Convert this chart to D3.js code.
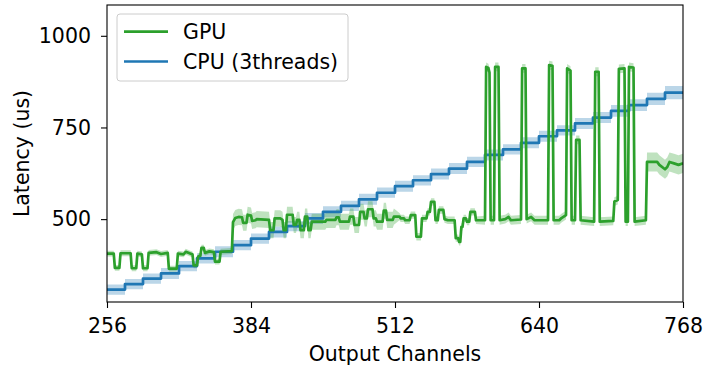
<!DOCTYPE html>
<html>
<head>
<meta charset="utf-8">
<script src="https://cdn.jsdelivr.net/npm/d3@7"></script>
<style>
  body { margin: 0; background: #fff; }
  svg { display: block; font-family: "DejaVu Sans", sans-serif; }
</style>
</head>
<body>
<svg id="chart" width="704" height="367"></svg>
<script>
// ticks
var xTicks = [256, 384, 512, 640, 768];
var yTicks = [500, 750, 1000];

// CPU (3 threads): latency is flat over every block of 16 output channels
var cpuStepStart = [256, 272, 288, 304, 320, 336, 352, 368, 384, 400, 416, 432, 448, 464, 480, 496,
                    512, 528, 544, 560, 576, 592, 608, 624, 640, 656, 672, 688, 704, 720, 736, 752];
var cpuLatency = [308, 323, 338, 352, 372, 393, 411, 429, 447, 465, 481, 502, 520, 536, 554, 572,
                  590, 606, 623, 638, 656, 675, 690, 708, 726, 742, 761, 777, 795, 811, 828, 845];
var cpuSpread = [14, 14, 14, 15, 14, 14, 15, 14, 14, 15, 14, 15, 15, 14, 15, 14,
                 15, 14, 15, 15, 14, 15, 14, 15, 15, 14, 15, 15, 16, 16, 17, 18];

// GPU: breakpoints of the measured curve
var gpuChannels = [256, 262, 263, 267, 268, 277, 278, 282, 283, 287, 288, 292, 293, 300, 304, 310,
  311, 318, 319, 324, 326, 330, 332, 333, 336, 337, 339, 340, 342, 343, 347, 351, 352, 356, 357, 367,
  368, 370, 373, 376, 377, 380, 381, 384, 385, 388, 389, 400, 401, 404, 405, 410, 412, 413, 415, 416,
  421, 422, 424, 425, 427, 428, 431, 432, 434, 435, 437, 438, 450, 451, 459, 460, 462, 463, 471, 472,
  475, 476, 480, 481, 484, 485, 487, 488, 492, 493, 495, 496, 501, 502, 504, 505, 510, 511,
  516, 517, 520, 521, 525, 526, 530, 531, 535, 536, 540, 541, 543, 544, 547, 548, 550, 551, 555, 556,
  559, 565, 566, 568, 569, 570, 571, 572, 573, 575, 576, 578, 579, 583, 584,
  592, 593, 595, 596, 597, 600, 601, 604, 605, 610, 613, 615, 624, 625, 628, 629, 633, 636,
  648, 649, 652, 653, 658, 660, 664, 665, 668, 669, 672, 673, 676, 677, 689, 690, 693, 694,
  706, 707, 710, 711, 716, 717, 719, 720, 724, 725, 735, 736, 745, 747, 752, 754, 756, 760, 764, 768];
var gpuLatency = [406, 406, 367, 367, 407, 407, 366, 366, 406, 404, 366, 366, 408, 410, 405, 408,
  365, 365, 406, 404, 411, 406, 404, 374, 374, 398, 400, 422, 422, 408, 412, 410, 384, 384, 411, 413,
  492, 503, 506, 505, 490, 490, 512, 510, 495, 497, 500, 498, 470, 470, 502, 502, 498, 470, 470, 512,
  512, 484, 484, 498, 498, 470, 470, 507, 507, 470, 470, 493, 493, 498, 498, 505, 505, 493, 493, 507,
  507, 484, 484, 520, 520, 502, 502, 527, 527, 502, 502, 493, 493, 523, 523, 498, 498, 507,
  507, 502, 502, 497, 497, 511, 511, 452, 452, 502, 502, 520, 520, 547, 547, 497, 497, 525, 525, 500,
  497, 497, 448, 448, 438, 438, 479, 479, 502, 502, 493, 493, 520, 520, 497,
  497, 915, 912, 900, 497, 497, 915, 915, 497, 500, 506, 497, 499, 911, 911, 500, 506, 497,
  497, 920, 918, 497, 497, 503, 511, 911, 905, 497, 497, 716, 716, 497, 493, 902, 902, 493,
  495, 548, 552, 910, 911, 493, 493, 915, 913, 493, 497, 656, 656, 648, 636, 642, 656, 652, 648, 652];
// width of the light band around the GPU curve, per channel range
var gpuSpreadFrom = [256, 368, 512, 592, 736];
var gpuSpread = [8, 22, 10, 12, 26];

var svg = d3.select("#chart");
// plot box (top/left are window globals, so use other names)
var pLeft = 107, pRight = 683, pTop = 5, pBottom = 302;
var fontSize = "20.5px";
var lineWidth = 2.7;

var x = d3.scaleLinear().domain([256, 768]).range([pLeft, pRight]);
var y = d3.scaleLinear().domain([274, 1084]).range([pBottom, pTop]);

var gpuColor = "#2ca02c", cpuColor = "#1f77b4";

// cpu step points (last level runs on to 768)
var cpuPts = cpuStepStart.map(function(c, i) {
  return { c: c, v: cpuLatency[i], s: cpuSpread[i] };
});
cpuPts.push({ c: 768, v: cpuLatency[cpuLatency.length - 1], s: cpuSpread[cpuSpread.length - 1] });

function spreadAt(c) {
  var s = gpuSpread[0];
  gpuSpreadFrom.forEach(function(f, i) { if (c >= f) s = gpuSpread[i]; });
  return s;
}
var gpuPts = gpuChannels.map(function(c, i) {
  return { c: c, v: gpuLatency[i], s: spreadAt(c) };
});

svg.append("defs").append("clipPath").attr("id", "plotclip")
  .append("rect").attr("x", pLeft).attr("y", pTop)
  .attr("width", pRight - pLeft).attr("height", pBottom - pTop);

var plot = svg.append("g").attr("clip-path", "url(#plotclip)");

var cpuArea = d3.area().curve(d3.curveStepAfter)
  .x(function(d) { return x(d.c); })
  .y0(function(d) { return y(d.v - d.s); })
  .y1(function(d) { return y(d.v + d.s); });
var cpuLine = d3.line().curve(d3.curveStepAfter)
  .x(function(d) { return x(d.c); })
  .y(function(d) { return y(d.v); });

var gpuArea = d3.area()
  .x(function(d) { return x(d.c); })
  .y0(function(d) { return y(d.v - d.s); })
  .y1(function(d) { return y(d.v + d.s); });
var gpuLine = d3.line()
  .x(function(d) { return x(d.c); })
  .y(function(d) { return y(d.v); });

plot.append("path").attr("d", cpuArea(cpuPts)).attr("fill", cpuColor).attr("fill-opacity", 0.3);
plot.append("path").attr("d", gpuArea(gpuPts)).attr("fill", gpuColor).attr("fill-opacity", 0.3);
plot.append("path").attr("d", cpuLine(cpuPts)).attr("fill", "none")
  .attr("stroke", cpuColor).attr("stroke-width", lineWidth).attr("stroke-linejoin", "round");
plot.append("path").attr("d", gpuLine(gpuPts)).attr("fill", "none")
  .attr("stroke", gpuColor).attr("stroke-width", lineWidth).attr("stroke-linejoin", "round");

// axes
var xAxis = d3.axisBottom(x).tickValues(xTicks).tickFormat(d3.format("d"))
  .tickSize(6).tickSizeOuter(0).tickPadding(10);
var yAxis = d3.axisLeft(y).tickValues(yTicks).tickFormat(d3.format("d"))
  .tickSize(6).tickSizeOuter(0).tickPadding(10);

var gx = svg.append("g").attr("transform", "translate(0," + pBottom + ")").call(xAxis);
var gy = svg.append("g").attr("transform", "translate(" + pLeft + ",0)").call(yAxis);
[gx, gy].forEach(function(g) {
  g.select(".domain").remove();
  g.selectAll(".tick line").attr("stroke", "#000").attr("stroke-width", 1.1);
  g.selectAll(".tick text").attr("fill", "#000")
    .style("font-size", fontSize).style("font-family", "DejaVu Sans");
});

svg.append("rect").attr("x", pLeft).attr("y", pTop)
  .attr("width", pRight - pLeft).attr("height", pBottom - pTop)
  .attr("fill", "none").attr("stroke", "#000").attr("stroke-width", 1.1);

svg.append("text").attr("x", (pLeft + pRight) / 2).attr("y", 361)
  .attr("text-anchor", "middle").style("font-size", fontSize).text("Output Channels");
svg.append("text").attr("transform", "translate(28.5," + (pTop + pBottom) / 2 + ") rotate(-90)")
  .attr("text-anchor", "middle").style("font-size", fontSize).text("Latency (us)");

// legend
var legend = svg.append("g");
legend.append("rect").attr("x", 117).attr("y", 14).attr("width", 231).attr("height", 67)
  .attr("rx", 3).attr("fill", "#fff").attr("fill-opacity", 0.8)
  .attr("stroke", "#cccccc").attr("stroke-width", 1);
var items = [{ name: "GPU", color: gpuColor, y: 31.7 }, { name: "CPU (3threads)", color: cpuColor, y: 61.5 }];
items.forEach(function(it) {
  legend.append("line").attr("x1", 124).attr("x2", 168).attr("y1", it.y).attr("y2", it.y)
    .attr("stroke", it.color).attr("stroke-width", lineWidth);
  legend.append("text").attr("x", 183).attr("y", it.y).attr("dy", "0.36em")
    .style("font-size", fontSize).text(it.name);
});
</script>
</body>
</html>
